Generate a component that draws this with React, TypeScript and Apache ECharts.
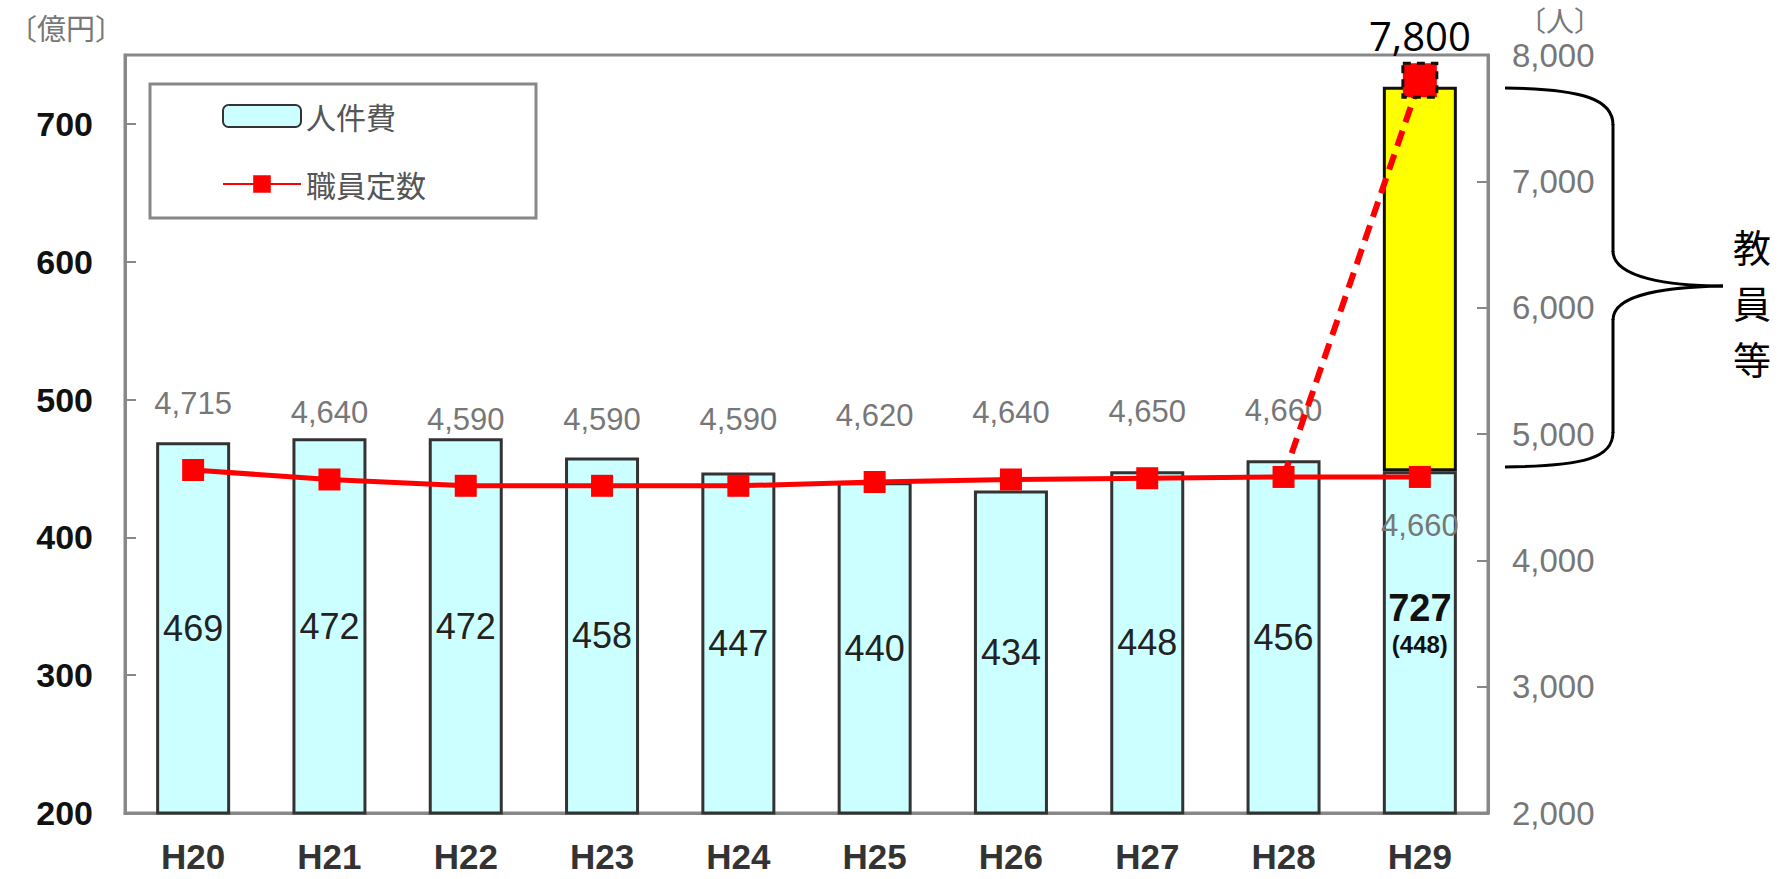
import React, { useEffect, useRef } from "react";
import * as echarts from "echarts";

const categories = ["H20", "H21", "H22", "H23", "H24", "H25", "H26", "H27", "H28", "H29"];
const personnelCost = [469, 472, 472, 458, 447, 440, 434, 448, 456, 448];
const teacherCost = [null, null, null, null, null, null, null, null, null, 279];
const totalH29 = 727;
const staffCount = [4715, 4640, 4590, 4590, 4590, 4620, 4640, 4650, 4660, 4660];
const staffWithTeachers = [null, null, null, null, null, null, null, null, 4660, 7800];
const leftTicks = { min: 200, max: 750, interval: 100 };
const rightTicks = { min: 2000, max: 8000, interval: 1000 };
const braceLabel = ["教", "員", "等"];

const fmt = (v: number) => v.toLocaleString("en-US");

export default function App() {
  const ref = useRef<HTMLDivElement>(null);
  useEffect(() => {
    document.body.style.margin = "0";
    const chart = echarts.init(ref.current!, null, { renderer: "svg" });
    const narrow = "'Liberation Sans Narrow', 'Liberation Sans', Arial, sans-serif";
    const gray = "#777";
    const braceStyle = { stroke: "#000", lineWidth: 3, fill: "none" };
    chart.setOption({
      animation: false,
      backgroundColor: "#fff",
      grid: {
        left: 125,
        right: 299,
        top: 55,
        bottom: 66,
        show: true,
        borderColor: "#888",
        borderWidth: 3,
        containLabel: false,
      },
      legend: {
        orient: "vertical",
        left: 150,
        top: 84,
        data: ["人件費", "職員定数"],
        borderColor: "#888",
        borderWidth: 3,
        padding: [16, 110, 18, 72],
        itemGap: 36,
        itemWidth: 78,
        itemHeight: 22,
        textStyle: {
          fontSize: 30,
          color: "#555",
          fontFamily: "'Noto Sans CJK JP', sans-serif",
          lineHeight: 32,
        },
      },
      xAxis: {
        type: "category",
        data: categories,
        axisLine: { lineStyle: { color: "#888", width: 3 } },
        axisTick: { inside: true, length: 10, lineStyle: { color: "#999", width: 3 } },
        axisLabel: {
          fontSize: 35,
          fontWeight: "bold",
          color: "#333",
          margin: 26,
          fontFamily: "'Liberation Sans', Arial, sans-serif",
        },
      },
      yAxis: [
        {
          type: "value",
          min: leftTicks.min,
          max: leftTicks.max,
          interval: leftTicks.interval,
          splitLine: { show: false },
          axisLine: { show: true, lineStyle: { color: "#888", width: 3 } },
          axisTick: { show: true, inside: true, length: 11, lineStyle: { color: "#888", width: 2 } },
          axisLabel: {
            showMaxLabel: false,
            fontSize: 34,
            fontWeight: "bold",
            color: "#111",
            margin: 32,
            fontFamily: narrow,
          },
        },
        {
          type: "value",
          min: rightTicks.min,
          max: rightTicks.max,
          interval: rightTicks.interval,
          position: "right",
          splitLine: { show: false },
          axisLine: { show: true, lineStyle: { color: "#888", width: 3 } },
          axisTick: { show: true, inside: true, length: 11, lineStyle: { color: "#888", width: 2 } },
          axisLabel: {
            fontSize: 33,
            color: gray,
            margin: 24,
            fontFamily: "'Liberation Sans', Arial, sans-serif",
            formatter: (v: number) => fmt(v),
          },
        },
      ],
      series: [
        {
          name: "人件費",
          type: "bar",
          stack: "cost",
          barWidth: 74,
          itemStyle: { color: "#ccffff", borderColor: "#333", borderWidth: 3 },
          label: {
            show: true,
            position: "inside",
            fontSize: 36,
            color: "#222",
            fontFamily: narrow,
          },
          data: personnelCost.map((v, i) =>
            i === personnelCost.length - 1
              ? {
                  value: v,
                  label: {
                    formatter: `{b|${totalH29}}\n{s|(${v})}`,
                    offset: [0, -20],
                    rich: {
                      b: { fontSize: 38, fontWeight: "bold", color: "#111", fontFamily: narrow, lineHeight: 44 },
                      s: { fontSize: 24, fontWeight: "bold", color: "#111", fontFamily: narrow, lineHeight: 30 },
                    },
                  },
                }
              : v
          ),
          z: 2,
        },
        {
          name: "教員等費",
          type: "bar",
          stack: "cost",
          barWidth: 74,
          itemStyle: { color: "#ffff00", borderColor: "#111", borderWidth: 3 },
          data: teacherCost,
          z: 2,
        },
        {
          name: "職員定数",
          type: "line",
          yAxisIndex: 1,
          symbol: "rect",
          symbolSize: 22,
          lineStyle: { color: "#ff0000", width: 5 },
          itemStyle: { color: "#ff0000" },
          label: {
            show: true,
            position: "top",
            distance: 40,
            fontSize: 31,
            color: gray,
            fontFamily: "'Liberation Sans', Arial, sans-serif",
            formatter: (p: any) => fmt(p.value),
          },
          data: staffCount.map((v, i) =>
            i === staffCount.length - 1 ? { value: v, label: { position: "bottom", distance: 22 } } : v
          ),
          z: 4,
        },
        {
          name: "職員定数(教員等含む)",
          type: "line",
          yAxisIndex: 1,
          connectNulls: false,
          lineStyle: { color: "#ff0000", width: 6, type: [16, 9] },
          itemStyle: { color: "#ff0000" },
          symbol: "rect",
          data: staffWithTeachers.map((v, i) =>
            v === null
              ? null
              : i === staffWithTeachers.length - 1
              ? {
                  value: v,
                  symbolSize: 34,
                  itemStyle: { color: "#ff0000", borderColor: "#111", borderWidth: 3, borderType: [8, 6] },
                  label: {
                    show: true,
                    position: "top",
                    distance: 6,
                    fontSize: 40,
                    color: "#000",
                    fontFamily: "'Open Sans', sans-serif",
                    formatter: (p: any) => fmt(p.value),
                  },
                }
              : { value: v, symbol: "none" }
          ),
          z: 5,
        },
      ],
      graphic: [
        {
          type: "text",
          left: 8,
          top: 12,
          style: { text: "〔億円〕", fontSize: 29, fill: gray, fontFamily: "'Noto Sans CJK JP', sans-serif" },
        },
        {
          type: "text",
          left: 1518,
          top: 6,
          style: { text: "〔人〕", fontSize: 28, fill: gray, fontFamily: "'Noto Sans CJK JP', sans-serif" },
        },
        {
          type: "group",
          children: [
            { type: "bezierCurve", shape: { x1: 1505, y1: 88, cpx1: 1585, cpy1: 89, cpx2: 1613, cpy2: 100, x2: 1613, y2: 125 }, style: braceStyle },
            { type: "line", shape: { x1: 1613, y1: 124, x2: 1613, y2: 252 }, style: braceStyle },
            { type: "bezierCurve", shape: { x1: 1613, y1: 251, cpx1: 1613, cpy1: 278, cpx2: 1670, cpy2: 286, x2: 1723, y2: 286 }, style: braceStyle },
            { type: "bezierCurve", shape: { x1: 1723, y1: 286, cpx1: 1670, cpy1: 287, cpx2: 1613, cpy2: 293, x2: 1613, y2: 320 }, style: braceStyle },
            { type: "line", shape: { x1: 1613, y1: 319, x2: 1613, y2: 433 }, style: braceStyle },
            { type: "bezierCurve", shape: { x1: 1613, y1: 432, cpx1: 1613, cpy1: 458, cpx2: 1585, cpy2: 466, x2: 1505, y2: 467 }, style: braceStyle },
          ],
        },
        ...braceLabel.map((ch, i) => ({
          type: "text",
          left: 1733,
          top: 226 + i * 56,
          style: {
            text: ch,
            fontSize: 38,
            lineHeight: 38,
            fill: "#000",
            fontFamily: "'Noto Sans CJK JP', sans-serif",
          },
        })),
      ],
    });
    return () => chart.dispose();
  }, []);
  return <div ref={ref} style={{ width: 1787, height: 879, overflow: "hidden" }} />;
}
